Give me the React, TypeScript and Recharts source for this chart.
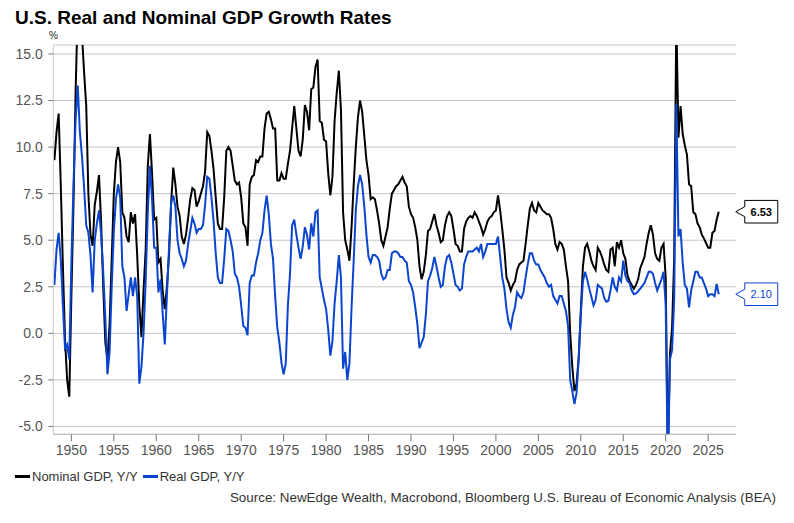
import { LineChart, Line, XAxis, YAxis, CartesianGrid, ReferenceDot } from "recharts";

// quarterly y/y growth, first point = 1948 Q1
const START_YEAR = 1948;

const NOMINAL = [
  9.3, 10.8, 11.8, 8.0, 3.6, -0.3, -2.5, -3.4,
  2.0, 7.0, 13.0, 17.5, 18.0, 16.0, 14.0, 12.2,
  7.5, 5.3, 4.7, 6.9, 7.6, 8.5, 6.0, 2.5,
  -0.5, -1.4, 0.5, 4.0, 7.5, 9.2, 10.0, 9.2,
  6.5, 6.2, 5.2, 4.9, 6.5, 5.9, 6.4, 4.2,
  1.5, -0.2, 2.3, 4.5, 9.0, 10.7, 8.6, 6.1,
  6.2, 3.8, 4.0, 2.3, 1.3, 2.5, 4.2, 7.0,
  8.9, 8.0, 6.8, 6.3, 5.2, 4.8, 5.3, 6.2,
  7.2, 7.8, 7.7, 6.8, 7.1, 7.5, 7.9, 8.7,
  10.8, 10.6, 9.8, 8.8, 7.3, 5.9, 5.6, 5.6,
  7.3, 9.8, 10.0, 9.8, 9.0, 8.2, 8.0, 8.1,
  7.3, 5.9, 5.7, 4.7, 8.0, 8.4, 8.5, 9.3,
  9.2, 9.5, 9.5, 11.0, 11.8, 11.9, 11.5, 11.0,
  11.0, 8.2, 8.2, 8.6, 8.3, 8.3, 9.1, 9.8,
  11.0, 12.2, 11.0, 9.8, 9.5, 10.4, 12.25, 11.9,
  10.9, 13.1, 13.2, 14.3, 14.7, 11.4, 11.3, 10.4,
  10.3, 8.6, 7.4, 8.4, 11.4, 12.9, 14.1, 12.0,
  6.5, 5.0, 4.5, 3.9, 5.7, 8.0, 10.0, 11.6,
  12.5, 11.9, 10.6, 9.3, 8.5, 7.2, 7.3, 7.2,
  6.6, 5.9, 5.0, 4.7, 5.2, 5.7, 6.7, 7.5,
  7.7, 7.9, 8.0, 8.2, 8.4, 8.1, 7.9, 6.8,
  6.4, 6.2, 5.7, 5.0, 3.6, 2.9, 3.3, 4.2,
  5.5, 5.6, 6.0, 6.4, 5.8, 5.4, 4.9, 5.0,
  5.8, 6.3, 6.5, 6.3, 5.6, 4.8, 4.7, 4.4,
  4.4, 5.6, 6.0, 6.2, 6.3, 6.2, 6.5, 6.3,
  6.0, 5.7, 5.3, 5.6, 6.0, 6.2, 6.3, 6.5,
  6.6, 7.4, 6.6, 5.6, 4.5, 3.0, 2.7, 2.3,
  2.6, 2.8, 3.4, 3.7, 3.8, 3.9, 4.8, 5.8,
  6.7, 7.0, 6.6, 6.5, 7.0, 6.8, 6.6, 6.5,
  6.4, 6.4, 6.2, 5.6, 4.8, 4.5, 4.9, 4.8,
  4.5, 3.6, 2.8, 0.0, -1.8, -3.1, -2.7, -1.3,
  1.2, 3.6, 4.6, 4.8, 4.4, 3.9, 3.6, 3.4,
  4.6, 4.4, 4.1, 3.7, 3.4, 3.3, 4.5, 4.6,
  3.6, 4.9, 4.6, 5.0, 4.3, 4.0, 3.1, 2.8,
  2.6, 2.4, 2.6, 2.9, 3.5, 3.8, 4.1, 4.8,
  5.4, 5.8, 5.3, 4.3, 4.0, 3.9, 4.6, 4.8,
  3.0, -6.9, -1.1, 0.3, 4.0, 17.0, 10.5, 12.2,
  10.7, 10.1, 9.6, 8.0, 7.9, 6.5, 6.4, 5.9,
  5.7, 5.3, 5.1, 4.85, 4.6, 4.6, 5.4, 5.5,
  6.1, 6.53,
];

const REAL = [
  2.6, 4.5, 5.4, 4.0, 1.5, -0.8, -0.6, -1.4,
  3.8, 8.0, 11.5, 13.3, 10.8, 9.5, 7.8, 5.8,
  5.4, 4.2, 2.2, 5.0, 5.9, 6.6, 5.3, 3.3,
  0.8, -2.2, -1.0, 2.5, 5.5, 7.2, 8.0, 7.3,
  3.6, 3.0, 1.2, 2.1, 3.0, 2.0, 3.0, 2.0,
  -2.7, -1.8, 0.0, 2.8, 6.5, 9.0, 7.2, 4.6,
  4.6, 2.2, 2.9, 1.1, -0.6, 2.0, 4.6, 7.0,
  7.4, 6.8, 5.0, 4.3, 4.0, 3.6, 3.9, 4.8,
  5.5, 6.2, 5.9, 5.4, 5.6, 5.6, 5.8, 6.9,
  8.4, 8.3, 7.3, 6.0, 4.3, 3.0, 2.7, 2.7,
  4.0, 5.6, 5.5, 5.0, 4.4, 3.2, 3.0, 2.5,
  1.5, 0.4, 0.3, -0.1, 2.7, 3.1, 3.1, 3.8,
  4.3, 5.0, 5.4, 6.6, 7.4, 6.4, 4.8, 4.0,
  2.0, 0.3, -0.5, -1.6, -2.2, -1.6, 1.5, 3.2,
  5.8, 6.1, 5.3, 4.6, 4.0, 4.65, 5.7, 5.3,
  4.5, 5.9, 5.2, 6.5, 6.6, 3.0, 2.4, 1.8,
  1.3, 0.2, -1.2, -0.4, 1.6, 2.8, 4.2, 3.0,
  -1.9, -1.0, -2.5, -1.6, 1.4, 3.9, 6.6, 7.9,
  8.5, 8.0, 6.8, 5.3, 4.1, 3.8, 4.2, 4.2,
  4.1, 3.9, 3.2, 2.9, 3.0, 3.4, 3.4, 4.3,
  4.4, 4.4, 4.3, 4.1, 4.1, 3.9, 3.8, 2.8,
  2.6, 2.2, 1.4, 0.5, -0.8, -0.5, -0.2, 1.0,
  2.8, 3.1, 3.5, 4.1, 3.6, 3.0, 2.5, 2.6,
  3.6, 4.1, 4.2, 3.8, 3.2, 2.6, 2.5, 2.3,
  2.4, 3.7, 4.1, 4.4, 4.4, 4.4, 4.5, 4.6,
  4.4, 4.8, 4.1, 4.4, 4.8, 4.8, 4.8, 4.8,
  4.8, 5.2, 4.1, 3.0, 2.4, 1.3, 0.6, 0.3,
  1.0, 1.4, 2.2, 2.0, 1.9, 2.2, 3.0, 3.7,
  4.3, 4.3, 3.9, 3.7, 3.7, 3.4, 3.2, 3.0,
  2.7, 2.5, 2.6, 2.0, 1.8, 1.6, 2.0, 2.0,
  1.6, 1.2, 0.4, -2.5, -3.1, -3.8, -3.2, -1.4,
  1.0, 2.8, 3.3, 2.9, 2.4, 1.95, 1.5, 1.8,
  2.6, 2.5, 2.4, 1.9, 1.7, 1.75, 2.3, 3.0,
  2.5, 2.3, 3.0, 2.8, 3.9, 3.1, 2.8, 2.7,
  2.3, 2.1, 2.15, 2.25, 2.4, 2.55, 2.7, 3.0,
  3.3, 3.3, 3.2, 2.7, 2.3, 2.6, 2.9, 3.3,
  1.5, -7.5, -1.4, -0.9, 1.8, 12.3, 5.2, 5.6,
  3.8, 2.6, 2.4, 1.4, 2.3, 2.8, 3.3, 3.3,
  3.0, 3.0, 2.7, 2.4, 2.0, 2.1, 2.1, 2.0,
  2.65, 2.1,
];

const YEAR_TICKS = [1950, 1955, 1960, 1965, 1970, 1975, 1980, 1985, 1990, 1995, 2000, 2005, 2010, 2015, 2020, 2025];
const PCT_TICKS = [-5, -2.5, 0, 2.5, 5, 7.5, 10, 12.5, 15];

const BLACK = "#000000";
const BLUE = "#0b45cf";
const FONT = '"Liberation Sans", Arial, sans-serif';

const data = NOMINAL.map((v, i) => ({ t: START_YEAR + i / 4, nominal: v, real: REAL[i] }));
const last = data[data.length - 1];

function Callout({ cx, cy, text, color, bold }: { cx: number; cy: number; text: string; color: string; bold?: boolean }) {
  const tip = cx + 17;
  const x0 = tip + 9;
  const x1 = tip + 42;
  const h = 11.3;
  const d = `M${tip},${cy} L${x0},${cy - 5} L${x0},${cy - h} L${x1},${cy - h} L${x1},${cy + h} L${x0},${cy + h} L${x0},${cy + 5} Z`;
  return (
    <g>
      <path d={d} fill="#fff" stroke={color} strokeWidth={1} />
      <text x={(x0 + x1) / 2} y={cy} dy="0.36em" textAnchor="middle" fontSize={11}
        fontFamily={FONT} fontWeight={bold ? 700 : 400} fill={color}>{text}</text>
    </g>
  );
}

export default function App() {
  return (
    <div style={{ position: "absolute", left: 0, top: 0, width: 794, height: 523, background: "#fff", fontFamily: FONT }}>
      <div style={{ position: "absolute", left: 15, top: 7.5, fontSize: 19, lineHeight: "19px", fontWeight: 700, color: "#000", whiteSpace: "nowrap" }}>
        U.S. Real and Nominal GDP Growth Rates
      </div>
      <div style={{ position: "absolute", left: 49, top: 31, fontSize: 10, lineHeight: "10px", color: "#222" }}>%</div>

      <LineChart width={794} height={523} data={data} margin={{ top: 45, right: 58, bottom: 58.7, left: 0 }}>
        <CartesianGrid vertical={false} stroke="#c6c6c6" />
        <XAxis type="number" dataKey="t" domain={[1947.87, 2028.28]} ticks={YEAR_TICKS} allowDataOverflow
          height={30} tickSize={7} tickMargin={4} interval={0}
          tick={{ fontSize: 14, fill: "#555", fontFamily: FONT }}
          axisLine={{ stroke: "#bbb" }} tickLine={{ stroke: "#777" }} />
        <YAxis type="number" domain={[-5.42, 15.48]} ticks={PCT_TICKS} allowDataOverflow
          width={53.3} tickSize={5} tickMargin={5.6} interval={0}
          tickFormatter={(v: number) => v.toFixed(1)}
          tick={{ fontSize: 14, fill: "#555", fontFamily: FONT }}
          axisLine={{ stroke: "#ccc" }} tickLine={{ stroke: "#777" }} />
        <Line type="linear" dataKey="nominal" stroke={BLACK} strokeWidth={2} dot={false} isAnimationActive={false} />
        <Line type="linear" dataKey="real" stroke={BLUE} strokeWidth={2} dot={false} isAnimationActive={false} />
        <ReferenceDot x={last.t} y={last.nominal} r={0} ifOverflow="visible"
          shape={(p: any) => <Callout cx={p.cx} cy={p.cy} text={last.nominal.toFixed(2)} color={BLACK} bold />} />
        <ReferenceDot x={last.t} y={last.real} r={0} ifOverflow="visible"
          shape={(p: any) => <Callout cx={p.cx} cy={p.cy} text={last.real.toFixed(2)} color={BLUE} />} />
      </LineChart>

      <div style={{ position: "absolute", left: 15, top: 470, fontSize: 13, lineHeight: "13px", color: "#333", display: "flex", alignItems: "center", whiteSpace: "nowrap" }}>
        <span style={{ display: "inline-block", width: 15, height: 3, background: BLACK, marginRight: 2 }} />
        <span>Nominal GDP, Y/Y</span>
        <span style={{ display: "inline-block", width: 15, height: 3, background: BLUE, marginLeft: 5, marginRight: 2 }} />
        <span>Real GDP, Y/Y</span>
      </div>
      <div style={{ position: "absolute", right: 18, top: 491, fontSize: 13.4, lineHeight: "13px", color: "#333", whiteSpace: "nowrap" }}>
        Source: NewEdge Wealth, Macrobond, Bloomberg U.S. Bureau of Economic Analysis (BEA)
      </div>
    </div>
  );
}
